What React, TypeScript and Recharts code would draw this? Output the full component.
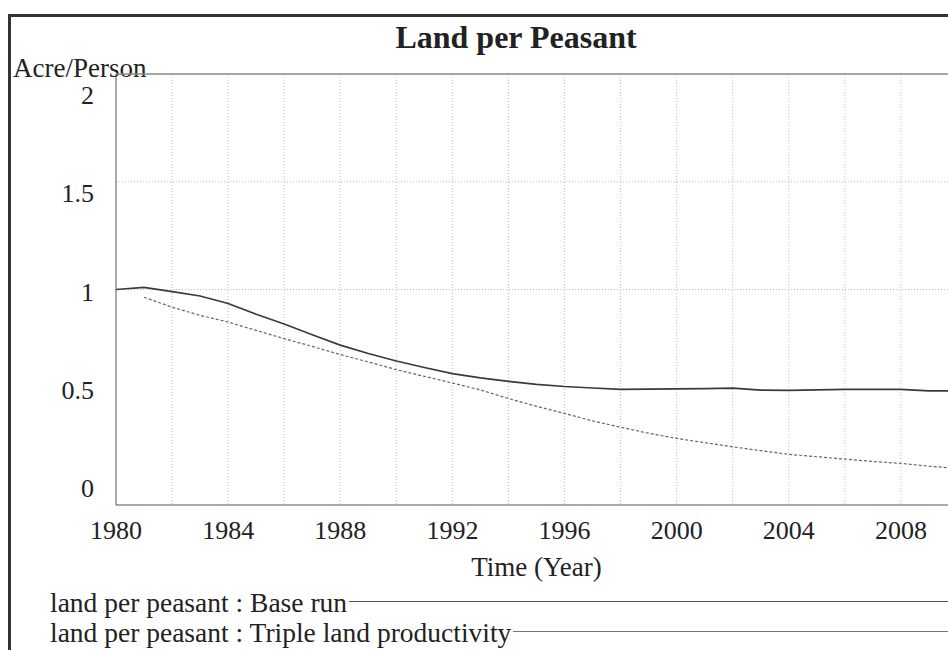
import React from 'react';
import { LineChart, Line, XAxis, YAxis, CartesianGrid, ReferenceLine } from 'recharts';

const years = [
  1980, 1981, 1982, 1983, 1984, 1985, 1986, 1987, 1988, 1989, 1990,
  1991, 1992, 1993, 1994, 1995, 1996, 1997, 1998, 1999, 2000,
  2001, 2002, 2003, 2004, 2005, 2006, 2007, 2008, 2009, 2010,
];

const baseRun = [
  1.0, 1.01, 0.99, 0.97, 0.935, 0.885, 0.84, 0.79, 0.742, 0.703, 0.668,
  0.638, 0.61, 0.59, 0.574, 0.56, 0.55, 0.543, 0.537, 0.538, 0.539,
  0.54, 0.542, 0.533, 0.532, 0.534, 0.537, 0.537, 0.537, 0.53, 0.53,
];

const tripleProductivity = [
  null, 0.964, 0.918, 0.88, 0.849, 0.81, 0.772, 0.736, 0.698, 0.664, 0.628,
  0.597, 0.566, 0.534, 0.494, 0.458, 0.425, 0.39, 0.361, 0.333, 0.309,
  0.289, 0.27, 0.252, 0.235, 0.224, 0.213, 0.202, 0.193, 0.18, 0.17,
];

const xTicks = [1980, 1984, 1988, 1992, 1996, 2000, 2004, 2008];
const xGrid = [1982, 1984, 1986, 1988, 1990, 1992, 1994, 1996, 1998, 2000, 2002, 2004, 2006, 2008];
const yTicks = [0, 0.5, 1, 1.5, 2];
const yGrid = [1, 1.5];

const seriesNames = ['land per peasant : Base run', 'land per peasant : Triple land productivity'];

const data = years.map((year, i) => ({
  year,
  base: baseRun[i],
  triple: tripleProductivity[i],
}));

const FONT = '"Liberation Serif", "Times New Roman", serif';
const INK = '#222';

// Vensim pulls the value labels a little toward the middle of the axis
const YTick = ({ x, y, payload }: any) => {
  const shift = (289.5 - y) * 0.087 + 2;
  return (
    <text x={x} y={y + shift} dy="0.35em" textAnchor="end" fontFamily={FONT} fontSize={26} fill={INK}>
      {payload.value}
    </text>
  );
};

const XTick = ({ x, y, payload }: any) => (
  <text x={x} y={y} dy="0.71em" textAnchor="middle" fontFamily={FONT} fontSize={26} fill={INK}>
    {payload.value}
  </text>
);

export default function App() {
  return (
    <div
      style={{
        position: 'fixed',
        left: 0,
        top: 0,
        width: 948,
        height: 650,
        overflow: 'hidden',
        background: '#fff',
        fontFamily: FONT,
        color: INK,
      }}
    >
      {/* outer frame */}
      <div
        style={{
          position: 'absolute',
          left: 8,
          top: 14,
          width: 1000,
          height: 700,
          border: '3px solid #333',
        }}
      />

      <div
        style={{
          position: 'absolute',
          left: 316,
          width: 400,
          top: 20,
          textAlign: 'center',
          fontSize: 32,
          fontWeight: 'bold',
          whiteSpace: 'nowrap',
          lineHeight: '34px',
        }}
      >
        Land per Peasant
      </div>

      <div style={{ position: 'absolute', left: 13, top: 54, fontSize: 27, lineHeight: '28px', whiteSpace: 'nowrap' }}>
        Acre/Person
      </div>

      <div style={{ position: 'absolute', left: 0, top: 0 }}>
        <LineChart width={970} height={590} data={data} margin={{ top: 74, right: 13, bottom: 5, left: 0 }}>
          <CartesianGrid
            stroke="#bdbdbd"
            strokeDasharray="1 2"
            horizontalValues={yGrid}
            verticalValues={xGrid}
          />
          <XAxis
            dataKey="year"
            type="number"
            domain={[1980, 2010]}
            ticks={xTicks}
            tick={<XTick />}
            tickLine={false}
            tickSize={0}
            tickMargin={16}
            height={80}
            stroke="#555"
            allowDataOverflow
            label={{
              value: 'Time (Year)',
              position: 'insideBottom',
              offset: 9,
              style: { fontFamily: FONT, fontSize: 27, fill: INK },
            }}
          />
          <YAxis
            type="number"
            domain={[0, 2]}
            ticks={yTicks}
            tick={<YTick />}
            tickLine={false}
            tickSize={0}
            tickMargin={22}
            width={116}
            stroke="#555"
          />
          <ReferenceLine y={2} stroke="#888" strokeWidth={1.5} />
          <Line
            type="linear"
            dataKey="base"
            name={seriesNames[0]}
            stroke="#3a3a3a"
            strokeWidth={1.7}
            dot={false}
            isAnimationActive={false}
          />
          <Line
            type="linear"
            dataKey="triple"
            name={seriesNames[1]}
            stroke="#666"
            strokeWidth={1.2}
            strokeDasharray="3 2"
            dot={false}
            connectNulls={false}
            isAnimationActive={false}
          />
        </LineChart>
      </div>

      {/* legend, Vensim style: name followed by a line running to the edge */}
      {seriesNames.map((name, i) => (
        <div
          key={name}
          style={{
            position: 'absolute',
            left: 50,
            top: 588 + i * 30,
            right: 0,
            display: 'flex',
            alignItems: 'center',
            fontSize: 27.5,
            lineHeight: '30px',
            whiteSpace: 'nowrap',
          }}
        >
          <span>{name}</span>
          <span
            style={{
              flex: 1,
              height: 0,
              borderTop: i === 0 ? '1.5px solid #555' : '1.5px solid #777',
              marginLeft: 2,
              marginTop: -4,
            }}
          />
        </div>
      ))}
    </div>
  );
}
